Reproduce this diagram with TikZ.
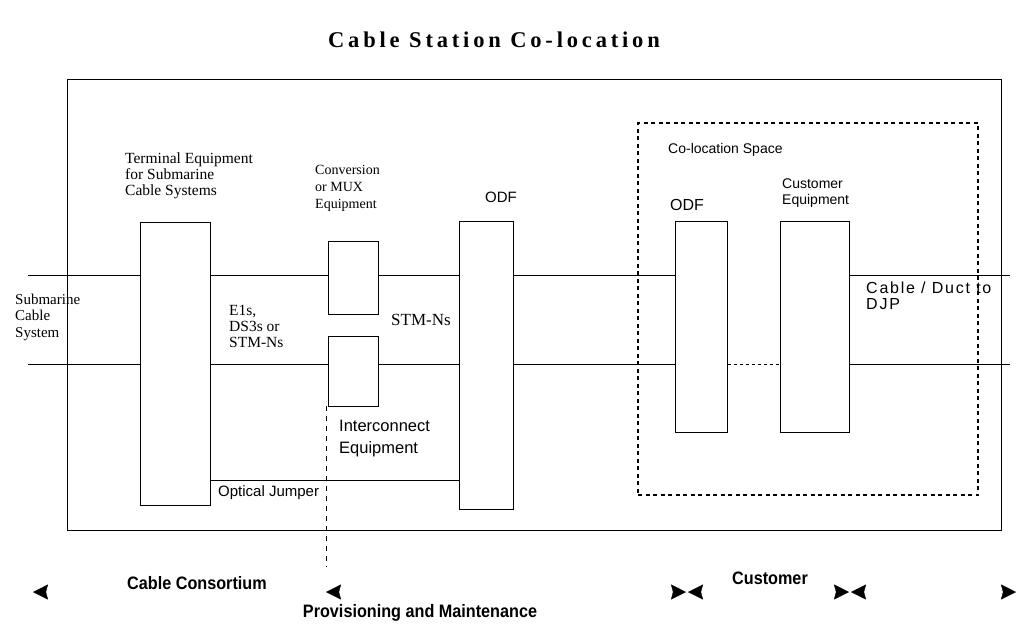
\documentclass[tikz,border=0pt]{standalone}
\usepackage{fontspec}
\setmainfont{Liberation Serif}
\setsansfont{Liberation Sans}
\newfontfamily\widesans[LetterSpace=11]{Liberation Sans}
\newfontfamily\bottomfont[FakeStretch=0.9]{Liberation Sans}
\newfontfamily\titlefont[LetterSpace=17]{Liberation Serif}
\usetikzlibrary{arrows.meta}

\begin{document}
\begin{tikzpicture}[x=1pt, y=-1pt, >=Stealth,
		box/.style={draw, fill=white, inner sep=0pt, line width=1pt},
		wire/.style={line width=1pt},
		slab/.style={font=\rmfamily\fontsize{15.5}{16}\selectfont, align=left, anchor=west, inner sep=0pt},
		lab/.style={font=\sffamily\fontsize{15}{17}\selectfont, align=left, anchor=west, inner sep=0pt},
		blab/.style={font=\bottomfont\bfseries\fontsize{18}{20}\selectfont, inner sep=0pt},
		dim/.style={white, line width=0.4pt, >={Stealth[black, length=15pt, width=15pt, inset=2pt]}}]

		\useasboundingbox (0,0) rectangle (1017,625);

		% Title
		\node[font=\titlefont\bfseries\fontsize{22.5}{24}\selectfont] (T) at (494,40) {Cable Station Co-location};

		% Station and co-location space
		\node[box, fill=none, minimum width=934pt, minimum height=451pt] (CS) at (534,304.5) {};
		\node[draw, line width=1.2pt, dash pattern=on 4pt off 3.5pt, minimum width=340pt, minimum height=372pt, inner sep=0pt] (CLS) at (808,309) {};

		% Equipment boxes
		\node[box, minimum width=70pt, minimum height=283pt] (TE) at (175,363.5) {};
		\node[box, minimum width=50pt, minimum height=73pt] (MX1) at (353,277.5) {};
		\node[box, minimum width=50pt, minimum height=70pt] (MX2) at (353,371) {};
		\node[box, minimum width=54pt, minimum height=288pt] (ODF1) at (486,365) {};
		\node[box, minimum width=52pt, minimum height=211pt] (ODF2) at (701,326.5) {};
		\node[box, minimum width=69pt, minimum height=211pt] (CE) at (814.5,326.5) {};

		% Cable ends
		\coordinate (L1) at (28,275);
		\coordinate (R1) at (1010,275);
		\coordinate (L2) at (28,364);
		\coordinate (R2) at (1010,364);
		\coordinate (J) at (0,480);

		% Upper line
		\draw[wire] (L1) -- (L1 -| TE.west);
		\draw[wire] (TE.east |- L1) -- (MX1.west |- L1);
		\draw[wire] (MX1.east |- L1) -- (ODF1.west |- L1);
		\draw[wire] (ODF1.east |- L1) -- (ODF2.west |- L1);
		\draw[wire] (CE.east |- L1) -- (R1);

		% Lower line
		\draw[wire] (L2) -- (L2 -| TE.west);
		\draw[wire] (TE.east |- L2) -- (MX2.west |- L2);
		\draw[wire] (MX2.east |- L2) -- (ODF1.west |- L2);
		\draw[wire] (ODF1.east |- L2) -- (ODF2.west |- L2);
		\draw[wire, dashed] (ODF2.east |- L2) -- (CE.west |- L2);
		\draw[wire] (CE.east |- L2) -- (R2);

		% Optical jumper
		\draw[wire] (TE.east |- J) -- (ODF1.west |- J);

		% Provisioning boundary
		\coordinate (PMT) at (326,406);
		\coordinate (PMB) at (326,567);
		\draw[line width=1pt, dash pattern=on 5pt off 5pt] (PMT) -- (PMB);

		% Labels
		\node[slab] (tTE) at (125,176) {Terminal Equipment\\for Submarine\\Cable Systems};
		\node[slab, font=\rmfamily\fontsize{14}{17}\selectfont] (tMX) at (315,188) {Conversion\\or MUX\\Equipment};
		\node[lab] (tODF1) at (485,197) {ODF};
		\node[slab, font=\rmfamily\fontsize{15}{16.5}\selectfont] (tSCS) at (15,317) {Submarine\\Cable\\System};
		\node[slab] (tE1) at (229,326) {E1s,\\DS3s or\\STM-Ns};
		\node[slab, font=\rmfamily\fontsize{17}{18}\selectfont] (tSTM) at (391,320) {STM-Ns};
		\node[lab, font=\sffamily\fontsize{16.5}{22}\selectfont] (tIC) at (339,439) {Interconnect\\Equipment};
		\node[lab] (tOJ) at (218,493) {Optical Jumper};
		\node[lab, font=\sffamily\fontsize{14}{16}\selectfont] (tCLS) at (668,150) {Co-location Space};
		\node[lab, font=\sffamily\fontsize{16}{17}\selectfont] (tODF2) at (670,205) {ODF};
		\node[lab, font=\sffamily\fontsize{14}{15.5}\selectfont] (tCE) at (782,193) {Customer\\Equipment};
		\node[lab, font=\widesans\fontsize{16}{16}\selectfont] (tCD) at (866,296) {Cable / Duct to\\DJP};

		% Responsibility spans
		\coordinate (D0) at (33,592);
		\coordinate (D1) at (326,592);
		\coordinate (D2) at (686,592);
		\coordinate (D3) at (688,592);
		\coordinate (D4) at (849,592);
		\coordinate (D5) at (851,592);
		\coordinate (D6) at (1016,592);
		\draw[dim, <-] (D0) -- (D1);
		\draw[dim, <->] (D1) -- (D2);
		\draw[dim, <->] (D3) -- (D4);
		\draw[dim, <->] (D5) -- (D6);

		\node[blab] (tCC) at (197,583) {Cable Consortium};
		\node[blab] (tCU) at (770,578) {Customer};
		\node[blab] (tPM) at (420,613) {Provisioning and Maintenance};

	\end{tikzpicture}
\end{document}
